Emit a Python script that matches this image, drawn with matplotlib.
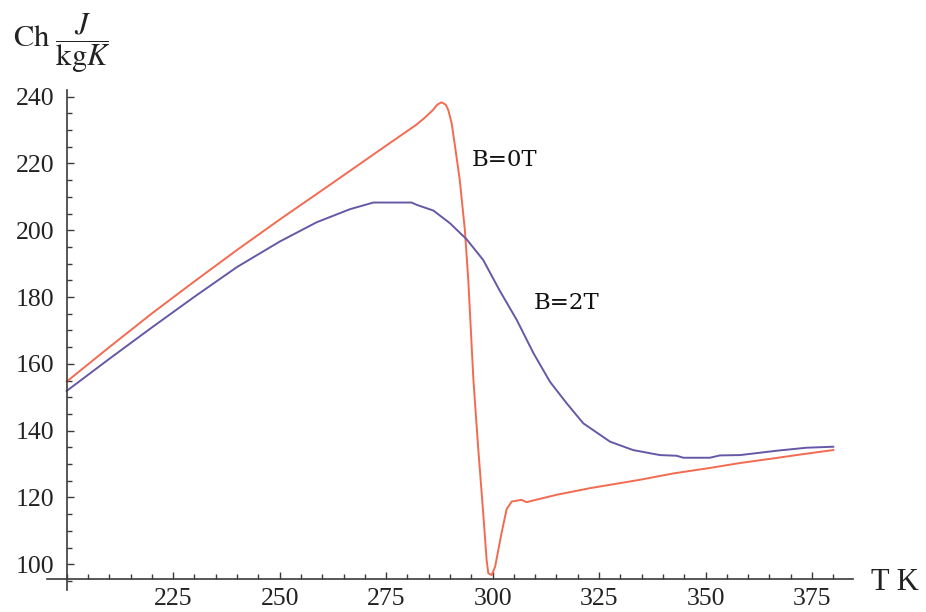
import matplotlib
matplotlib.use("Agg")
import matplotlib.pyplot as plt
from matplotlib.ticker import MultipleLocator, FixedLocator

# heat capacity vs temperature
t_b0 = [200, 210, 220, 230, 240, 250, 260, 275.2, 282, 284, 286, 287, 288,
        289, 289.6, 290.4, 291.2, 292.3, 293.5, 294.3, 295.5, 296.6, 297.8,
        298.6, 299.0, 299.8, 300.6, 301.3, 302.1, 303.3, 304.5, 306.8, 308.0,
        309.2, 315, 322.9, 334.6, 342.4, 350.3, 358, 365.9, 373, 380]
c_b0 = [154.7, 165.0, 175.1, 184.7, 194.1, 203.2, 212.0, 225.5, 231.5, 233.6,
        236.0, 237.6, 238.3, 237.6, 236.0, 232.0, 225.0, 215.0, 200.0, 185.0,
        155.2, 135.2, 115.3, 101.3, 97.3, 96.8, 99.3, 104.0, 109.3, 116.5,
        118.8, 119.3, 118.6, 119.0, 120.8, 122.8, 125.3, 127.2, 128.7, 130.3,
        131.7, 133.0, 134.2]

t_b2 = [200, 210, 220, 230, 240, 250, 258.7, 266.5, 272, 281, 282.2, 286.1,
        290, 293.9, 297.8, 301.6, 305.7, 309.6, 313.5, 317.4, 321.3, 327.6,
        333, 339.3, 343.2, 344.8, 351, 353.4, 358.1, 366.7, 373.7, 380]
c_b2 = [151.9, 161.5, 170.9, 180.1, 189.0, 196.6, 202.4, 206.3, 208.3, 208.3,
        207.6, 205.9, 202.1, 197.3, 191.1, 182.1, 173.1, 163.2, 154.6, 148.2,
        142.2, 136.7, 134.2, 132.7, 132.5, 131.9, 131.9, 132.6, 132.7, 134.0,
        134.9, 135.2]

x_ticks = [225, 250, 275, 300, 325, 350, 375]
y_ticks = [100, 120, 140, 160, 180, 200, 220, 240]

plt.rcParams['mathtext.fontset'] = 'stix'
axis_col = '#3a3a3a'

fig = plt.figure(figsize=(9.26, 6.12), dpi=100)
ax = fig.add_axes([0.0504, 0.0359, 0.8711, 0.8171])

ax.plot(t_b0, c_b0, color='#f26b50', lw=1.4)
ax.plot(t_b2, c_b2, color='#6658a6', lw=1.4)

ax.set_xlim(195.3, 384.7)
ax.set_ylim(92.3, 242)

# mathematica style crossing axes
for s in ['top', 'right']:
    ax.spines[s].set_visible(False)
ax.spines['left'].set_position(('data', 200))
ax.spines['bottom'].set_position(('data', 95.5))
for s in ['left', 'bottom']:
    ax.spines[s].set_color(axis_col)
    ax.spines[s].set_linewidth(1.2)

ax.xaxis.set_major_locator(FixedLocator(x_ticks))
ax.yaxis.set_major_locator(FixedLocator(y_ticks))
ax.xaxis.set_minor_locator(MultipleLocator(5))
ax.yaxis.set_minor_locator(MultipleLocator(5))
ax.tick_params(which='both', direction='in', color=axis_col, width=1.0)
ax.tick_params(which='major', length=5)
ax.tick_params(which='minor', length=3.5)
ax.tick_params(axis='x', which='major', pad=6)
ax.tick_params(axis='y', which='major', pad=9)
for lab in ax.get_xticklabels() + ax.get_yticklabels():
    lab.set_fontfamily('Liberation Serif')
    lab.set_fontsize(18.5)
    lab.set_color('#222222')

ax.text(295.1, 221, 'B=0T', family='DejaVu Serif', fontsize=16.5,
        ha='left', va='center', color='#111111')
ax.text(309.6, 178.1, 'B=2T', family='DejaVu Serif', fontsize=16.5,
        ha='left', va='center', color='#111111')

fig.text(0.941, 1 - 582 / 612, 'T K', family='Liberation Serif', fontsize=22,
         ha='left', va='center', color='#222222')
fig.text(13 / 926, 1 - 43 / 612, r'$\mathrm{Ch}\ \dfrac{J}{\mathrm{kg}K}$',
         fontsize=22, ha='left', va='center', color='#222222')

fig.savefig('out.png', dpi=100)
